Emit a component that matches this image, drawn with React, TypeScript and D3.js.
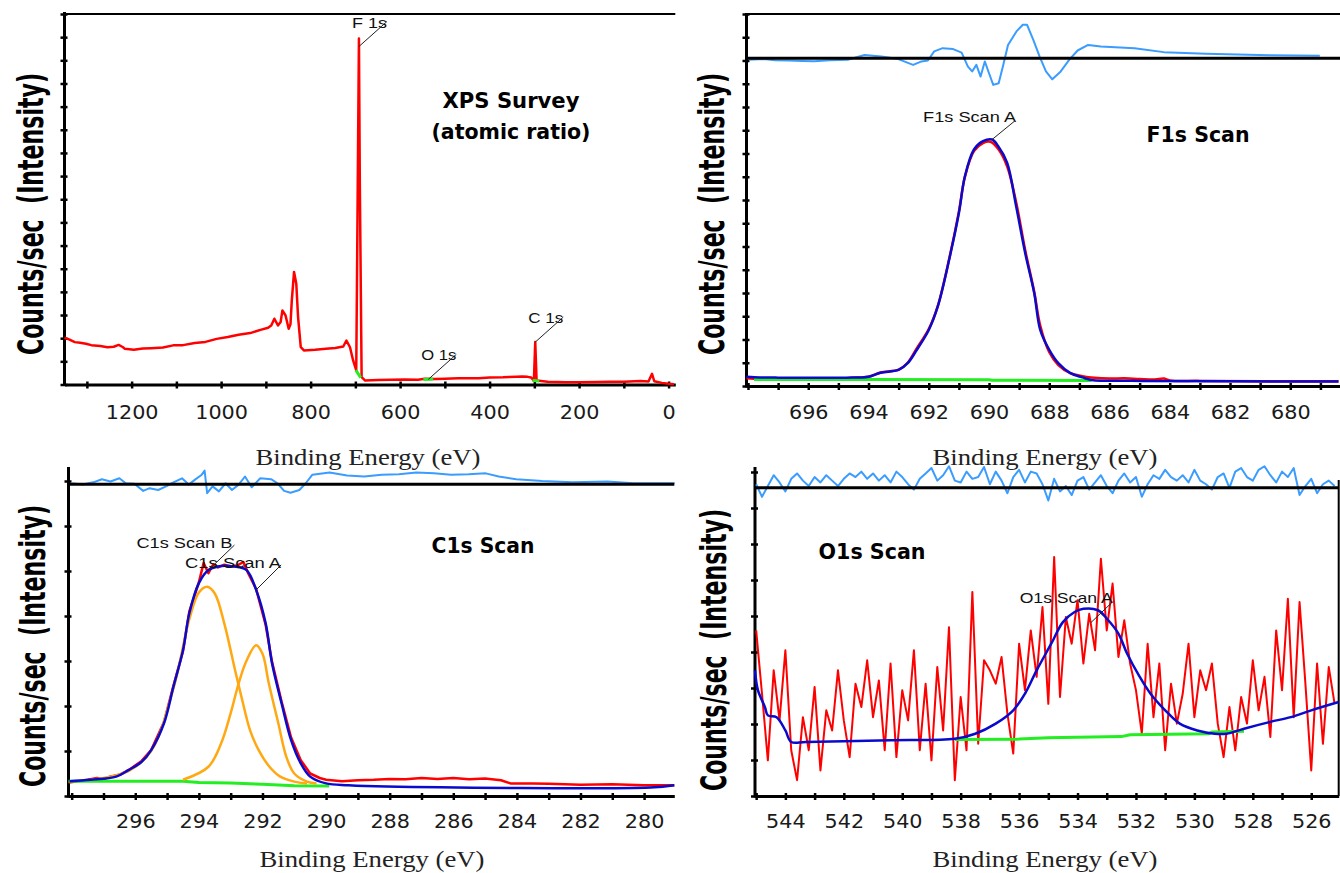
import React, { useEffect, useRef } from "react";
import * as d3 from "d3";

type Pt = [number, number];

// ---- XPS survey: binding energy (eV) / counts (in tick units) ----
const surveyEnergy = [1350, 1340, 1327, 1315, 1302, 1290, 1270, 1254, 1240, 1229,
  1220, 1215, 1195, 1175, 1156, 1130, 1107, 1085, 1059, 1035,
  1010, 985, 961, 935, 912, 895, 888, 881, 873, 867,
  863, 856, 849, 845, 842, 837, 832, 828, 822, 815,
  790, 766, 745, 727, 720, 712, 705, 698, 692, 690,
  686, 678, 650, 620, 590, 560, 545, 522, 500, 470,
  424, 400, 370, 340, 327, 315, 307, 301, 298, 295,
  270, 229, 200, 160, 132, 100, 63, 45, 37, 32,
  15, 0, -12];
const surveyCounts = [2.02, 1.95, 1.83, 1.80, 1.76, 1.70, 1.66, 1.61, 1.63, 1.71,
  1.62, 1.54, 1.50, 1.55, 1.57, 1.60, 1.69, 1.70, 1.79, 1.84,
  1.97, 2.05, 2.15, 2.22, 2.36, 2.45, 2.55, 2.84, 2.55, 2.70,
  3.20, 2.98, 2.41, 2.60, 3.63, 4.86, 4.35, 2.91, 1.61, 1.47,
  1.50, 1.54, 1.58, 1.64, 1.90, 1.61, 1.04, 0.61, 14.94, 8.67,
  0.32, 0.17, 0.19, 0.20, 0.22, 0.21, 0.25, 0.24, 0.25, 0.27,
  0.27, 0.30, 0.31, 0.34, 0.35, 0.33, 0.30, 0.17, 1.83, 0.17,
  0.12, 0.10, 0.10, 0.11, 0.12, 0.12, 0.15, 0.13, 0.46, 0.14,
  0.07, 0.03, 0.01];
const surveyBgF: Pt[] = [[699, 0.62], [688, 0.30]];
const surveyBgO: Pt[] = [[548, 0.22], [526, 0.24]];
const surveyBgC: Pt[] = [[304, 0.17], [289, 0.15]];
const surveyPeakNames = ["F 1s", "O 1s", "C 1s"];
const surveyPeakEnergy = [692, 537, 298];
const surveyPeakCounts = [14.94, 0.22, 1.83];

// ---- F1s scan ----
const f1sData: Pt[] = [[698.05, 0.33], [697.6, 0.30], [697.0, 0.28], [696.5, 0.28], [696.0, 0.30],
  [695.0, 0.33], [694.5, 0.36], [694.0, 0.40], [693.6, 0.58], [693.0, 0.70], [692.7, 1.0],
  [692.4, 1.62], [692.0, 2.45], [691.7, 3.45], [691.3, 5.6], [691.0, 7.5], [690.8, 9.0],
  [690.5, 10.1], [690.2, 10.45], [689.95, 10.5], [689.7, 10.2], [689.4, 9.45], [689.1, 7.9],
  [688.8, 5.85], [688.5, 4.05], [688.3, 2.6], [688.0, 1.45], [687.7, 0.9], [687.3, 0.55],
  [686.9, 0.42], [686.5, 0.35], [686.0, 0.32], [685.5, 0.33], [685.0, 0.30], [684.5, 0.28],
  [684.2, 0.32], [684.0, 0.24], [683.0, 0.22], [678.4, 0.20]];
const f1sEnvelope: Pt[] = [[698.05, 0.40], [697.6, 0.37], [697.0, 0.36], [696.0, 0.36], [695.0, 0.36],
  [694.7, 0.36], [694.0, 0.40], [693.6, 0.57], [693.0, 0.69], [692.7, 0.98], [692.4, 1.55],
  [692.0, 2.41], [691.7, 3.42], [691.3, 5.57], [691.0, 7.44], [690.8, 9.02], [690.5, 10.17],
  [690.2, 10.53], [689.9, 10.6], [689.7, 10.32], [689.4, 9.6], [689.1, 7.73], [688.8, 5.72],
  [688.5, 4.0], [688.3, 2.41], [688.0, 1.55], [687.7, 0.98], [687.3, 0.55], [686.9, 0.37],
  [686.6, 0.26], [684.9, 0.22], [678.4, 0.19]];
const f1sBackground: Pt[] = [[697.8, 0.28], [694.0, 0.28], [690.0, 0.27], [689.9, 0.25], [686.6, 0.24]];
const f1sResidual: Pt[] = [[697.97, -0.07], [697.48, -0.04], [697.1, -0.09], [696.64, -0.10], [696.2, -0.12],
  [695.8, -0.13], [695.3, -0.09], [694.69, -0.07], [694.13, 0.14], [693.57, 0.07], [693.01, -0.04],
  [692.52, -0.29], [692.24, -0.14], [692.03, -0.10], [691.82, 0.29], [691.54, 0.43], [691.19, 0.39],
  [690.91, 0.24], [690.7, -0.36], [690.56, -0.57], [690.42, -0.29], [690.28, -0.79], [690.14, -0.14],
  [690.0, -0.65], [689.86, -1.15], [689.68, -1.08], [689.54, -0.36], [689.37, 0.57], [689.09, 1.15],
  [688.88, 1.44], [688.74, 1.44], [688.53, 0.79], [688.32, 0.07], [688.11, -0.57], [687.9, -0.91],
  [687.62, -0.57], [687.34, -0.07], [687.06, 0.33], [686.71, 0.57], [686.29, 0.50], [685.17, 0.43],
  [684.2, 0.26], [682.8, 0.19], [680.7, 0.13], [679.02, 0.10]];

// ---- C1s scan ----
const c1sData: Pt[] = [[298.1, 0.30], [297.8, 0.33], [297.5, 0.36], [297.2, 0.40], [297.0, 0.37],
  [296.8, 0.43], [296.5, 0.47], [296.2, 0.58], [295.8, 0.78], [295.5, 1.02], [295.1, 1.64],
  [294.8, 2.45], [294.5, 3.22], [294.3, 4.10], [294.0, 4.75], [293.85, 5.18], [293.7, 4.95],
  [293.55, 5.15], [293.4, 5.08], [293.2, 5.14], [293.0, 5.10], [292.8, 5.12], [292.6, 5.20],
  [292.45, 4.95], [292.2, 4.60], [291.9, 3.80], [291.7, 2.98], [291.4, 2.10], [291.1, 1.30],
  [290.8, 0.80], [290.5, 0.50], [290.2, 0.40], [290.0, 0.36], [289.5, 0.33], [289.0, 0.35],
  [288.5, 0.36], [288.0, 0.38], [287.5, 0.37], [287.0, 0.40], [286.5, 0.38], [286.0, 0.40],
  [285.5, 0.37], [285.0, 0.39], [284.5, 0.35], [284.2, 0.28], [283.5, 0.28], [283.0, 0.27],
  [282.0, 0.25], [281.0, 0.26], [280.0, 0.24], [279.05, 0.24]];
const c1sEnvelope: Pt[] = [[298.07, 0.33], [297.4, 0.36], [296.6, 0.43], [296.2, 0.58], [295.8, 0.76],
  [295.5, 1.02], [295.1, 1.61], [294.8, 2.43], [294.5, 3.24], [294.3, 4.06], [294.0, 4.73],
  [293.7, 5.02], [293.4, 5.10], [292.9, 5.10], [292.5, 5.02], [292.2, 4.58], [291.9, 3.84],
  [291.7, 2.95], [291.4, 2.06], [291.1, 1.24], [290.8, 0.73], [290.5, 0.43], [290.0, 0.28],
  [289.3, 0.24], [288.1, 0.21], [279.8, 0.19], [279.05, 0.24]];
const c1sPeakA: Pt[] = [[294.5, 0.36], [293.7, 0.65], [293.3, 1.17], [293.0, 1.84], [292.75, 2.50],
  [292.5, 3.01], [292.2, 3.35], [292.0, 3.16], [291.8, 2.50], [291.5, 1.61], [291.25, 0.87],
  [291.0, 0.50], [290.6, 0.32], [290.3, 0.28]];
const c1sPeakB: Pt[] = [[297.4, 0.36], [296.2, 0.56], [295.5, 1.0], [294.8, 2.39], [294.3, 3.93],
  [294.0, 4.52], [293.74, 4.65], [293.5, 4.50], [293.2, 3.83], [292.86, 2.79], [292.66, 2.20],
  [292.39, 1.46], [292.12, 1.02], [291.78, 0.65], [291.44, 0.43], [291.0, 0.32], [290.6, 0.28]];
const c1sBackground: Pt[] = [[298.1, 0.33], [294.5, 0.33], [294.0, 0.30], [293.0, 0.29], [292.0, 0.26],
  [291.0, 0.23], [289.9, 0.22]];
const c1sResidual: Pt[] = [[298.0, 0.02], [297.66, -0.01], [297.32, 0.04], [297.05, 0.11], [296.78, 0.06],
  [296.5, 0.13], [296.3, 0.02], [296.03, 0.01], [295.75, -0.15], [295.55, -0.09], [295.28, -0.13],
  [295.0, -0.04], [294.8, 0.04], [294.53, 0.13], [294.32, -0.01], [294.12, 0.10], [293.91, 0.21],
  [293.82, 0.30], [293.74, -0.20], [293.57, -0.05], [293.37, -0.16], [293.16, 0.02], [292.96, -0.13],
  [292.75, -0.01], [292.55, 0.17], [292.34, -0.07], [292.07, 0.13], [291.73, 0.11], [291.53, 0.02],
  [291.32, -0.15], [291.12, -0.19], [290.84, -0.13], [290.64, 0.02], [290.43, 0.21], [289.89, 0.26],
  [289.34, 0.19], [288.8, 0.17], [288.25, 0.21], [287.71, 0.22], [287.16, 0.26], [286.61, 0.24],
  [286.07, 0.21], [285.52, 0.22], [284.98, 0.24], [284.57, 0.17], [284.02, 0.11], [283.2, 0.07],
  [282.25, 0.04], [281.16, 0.06], [280.34, 0.02], [279.04, 0.02]];

// ---- O1s scan (0.2 eV steps from 545.0 eV) ----
const o1sStart = 545.0;
const o1sStep = 0.2;
const o1sCounts = [4.6, 2.84, 0.99, 3.49, 2.1, 4.05, 1.27, 0.44, 2.19, 1.27,
  3.03, 0.71, 2.38, 1.82, 3.49, 2.1, 1.08, 3.12, 2.47, 3.77,
  2.19, 3.21, 1.27, 3.68, 1.08, 2.94, 2.1, 4.05, 1.27, 3.12,
  0.99, 3.58, 1.82, 4.69, 0.44, 2.75, 1.27, 5.67, 1.45, 3.77,
  3.49, 3.12, 3.86, 2.29, 1.18, 4.23, 2.94, 4.6, 3.31, 5.25,
  2.56, 6.64, 2.75, 4.97, 4.23, 5.44, 3.68, 5.06, 4.05, 6.59,
  4.6, 5.9, 3.86, 4.88, 3.68, 2.94, 1.73, 4.23, 2.19, 3.68,
  1.27, 3.12, 2.01, 2.84, 4.23, 2.19, 3.49, 2.94, 3.68, 2.01,
  1.08, 2.47, 1.27, 2.75, 2.01, 3.77, 2.38, 3.31, 1.64, 4.6,
  2.94, 5.48, 2.19, 5.39, 3.12, 0.71, 3.68, 1.45, 3.58, 2.56];
const o1sResidual = [0.10, -0.25, 0.05, 0.35, 0.15, -0.10, 0.25, 0.40, 0.20, 0.05,
  0.30, 0.15, 0.35, 0.20, 0.05, 0.25, 0.40, 0.30, 0.45, 0.25,
  0.40, 0.20, 0.35, 0.15, 0.45, 0.30, 0.10, -0.05, 0.25, 0.40,
  0.55, 0.20, 0.35, 0.60, 0.20, 0.15, 0.45, 0.25, 0.30, 0.58,
  0.10, 0.45, 0.20, -0.15, 0.30, 0.50, 0.15, 0.45, 0.40, 0.10,
  -0.35, 0.25, -0.10, 0.05, -0.20, 0.20, 0.30, -0.05, 0.15, 0.35,
  0.05, -0.15, 0.20, 0.40, 0.15, 0.30, -0.25, 0.10, 0.35, 0.25,
  0.50, 0.30, 0.20, 0.35, 0.15, 0.50, 0.20, 0.10, -0.05, 0.30,
  0.40, 0.00, 0.45, 0.55, 0.30, 0.20, 0.50, 0.60, 0.35, 0.15,
  0.45, 0.30, 0.55, -0.20, 0.05, 0.25, -0.15, 0.10, 0.20, 0.05];
const o1sEnvelope: Pt[] = [[545.04, 3.49], [544.94, 2.94], [544.7, 2.47], [544.6, 2.24], [544.3, 2.19],
  [544.0, 1.82], [543.8, 1.50], [543.3, 1.50], [540.4, 1.55], [538.2, 1.59], [537.5, 1.73],
  [536.8, 2.01], [536.2, 2.38], [535.8, 2.84], [535.4, 3.49], [534.9, 4.23], [534.5, 4.83],
  [534.1, 5.11], [533.8, 5.20], [533.3, 5.16], [533.0, 4.93], [532.6, 4.51], [532.3, 3.95],
  [531.9, 3.35], [531.5, 2.84], [531.0, 2.38], [530.5, 2.01], [529.9, 1.82], [529.3, 1.73],
  [528.9, 1.73], [528.3, 1.87], [527.4, 2.06], [526.7, 2.19], [526.0, 2.38], [525.06, 2.61]];
const o1sBackground: Pt[] = [[538.2, 1.57], [536.0, 1.58], [535.0, 1.62], [532.5, 1.65], [532.2, 1.70],
  [529.5, 1.73], [529.4, 1.78], [528.3, 1.80]];

const RED = "#ff0000";
const BLUE = "#0a0acc";
const GREEN = "#22ee22";
const ORANGE = "#ffa812";
const RESID = "#3a9cff";
const TICK_FONT = "'DejaVu Sans', Verdana, sans-serif";
const BOLD_FONT = "'DejaVu Sans', Verdana, sans-serif";
const SERIF = "'Liberation Serif', 'DejaVu Serif', serif";
const SMALL = "'Liberation Sans', Arial, sans-serif";

function addText(g, str, x, y, opts) {
  const t = g.append("text")
    .attr("text-anchor", opts.anchor || "middle")
    .attr("font-family", opts.family)
    .attr("font-size", opts.size)
    .attr("font-weight", opts.bold ? "bold" : "normal")
    .attr("fill", opts.fill || "#000")
    .text(str);
  if (opts.rotate) {
    // rotated axis title, glyphs stretched across the baseline
    t.attr("x", 0).attr("y", 0)
      .attr("transform", `translate(${x},${y}) rotate(${opts.rotate}) scale(1,${opts.stretch || 1})`);
  } else {
    t.attr("x", x).attr("y", y);
  }
  if (opts.length) t.attr("textLength", opts.length).attr("lengthAdjust", "spacingAndGlyphs");
  return t;
}

function drawFrame(svg, p) {
  const x = d3.scaleLinear().domain(p.xDomain).range([p.left, p.right]);
  const y = d3.scaleLinear().domain([0, p.yMax]).range([p.bottom, p.yTop]);
  const g = svg.append("g");

  const lo = Math.min(p.xDomain[0], p.xDomain[1]);
  const hi = Math.max(p.xDomain[0], p.xDomain[1]);
  const ticks = d3.range(Math.ceil(lo / p.step) * p.step, hi + 1e-6, p.step);
  const shown = (v) => v % p.labelStep === 0 && x(v) - p.left > 15;

  // bottom axis: ticks every step, labels every labelStep
  const xAxis = d3.axisBottom(x).tickValues(ticks).tickSizeInner(4).tickSizeOuter(0)
    .tickFormat((v) => (shown(v) ? String(v) : ""));
  const ax = g.append("g").attr("transform", `translate(0,${p.bottom})`).call(xAxis);
  ax.select(".domain").attr("stroke-width", 3);
  ax.selectAll(".tick line").attr("y1", -3).attr("y2", 4).attr("stroke-width", 2.5);
  ax.selectAll(".tick text")
    .attr("y", p.labelGap).attr("dy", 0)
    .attr("font-family", TICK_FONT).attr("font-size", 19).attr("fill", "#1a1a1a")
    .each(function (v) {
      if (shown(v)) d3.select(this).attr("textLength", String(v).length * 13.2).attr("lengthAdjust", "spacingAndGlyphs");
    });

  // left axis: unlabelled ticks
  const yAxis = d3.axisLeft(y).tickValues(d3.range(0, p.yMax + 1)).tickSizeInner(4).tickSizeOuter(0).tickFormat(() => "");
  const ay = g.append("g").attr("transform", `translate(${p.left},0)`).call(yAxis);
  ay.select(".domain").remove();
  ay.selectAll(".tick line").attr("x1", 3).attr("x2", -4).attr("stroke-width", 2.5);
  g.append("line").attr("x1", p.left).attr("x2", p.left).attr("y1", p.axisTop).attr("y2", p.bottom + 1.5)
    .attr("stroke", "#000").attr("stroke-width", 3);

  addText(g, "Binding Energy (eV)", p.xTitle[0], p.xTitle[1], { family: SERIF, size: 23, length: 225, fill: "#222" });
  addText(g, "Counts/sec\u00a0 (Intensity)", p.yTitle[0], p.yTitle[1],
    { family: BOLD_FONT, size: 21, bold: true, length: 282, rotate: -90, stretch: 1.7 });
  return { x, y, g };
}

function drawLine(g, pts, x, y, color, width, smooth = false, offset = 0) {
  const line = d3.line<Pt>().x((d) => x(d[0])).y((d) => y(d[1] + offset));
  if (smooth) line.curve(d3.curveCatmullRom);
  g.append("path").datum(pts).attr("d", line).attr("fill", "none")
    .attr("stroke", color).attr("stroke-width", width).attr("stroke-linejoin", "round");
}

function drawLeader(g, x0, y0, dx, dy, label, len, tdx, tdy) {
  g.append("line").attr("x1", x0).attr("y1", y0).attr("x2", x0 + dx).attr("y2", y0 + dy)
    .attr("stroke", "#222").attr("stroke-width", 1);
  addText(g, label, x0 + dx + tdx, y0 + dy + tdy, { family: SMALL, size: 15, anchor: "end", length: len, fill: "#111" });
}

function hline(g, x1, x2, yv, w) {
  g.append("line").attr("x1", x1).attr("x2", x2).attr("y1", yv).attr("y2", yv).attr("stroke", "#000").attr("stroke-width", w);
}

export default function App() {
  const ref = useRef<SVGSVGElement>(null);

  useEffect(() => {
    const svg = d3.select(ref.current);
    svg.selectAll("*").remove();

    // survey
    {
      const p = { xDomain: [1350, -15], left: 64.5, right: 675.3, bottom: 384.5, yTop: 14, axisTop: 12, yMax: 16,
        step: 100, labelStep: 200, labelGap: 34.5, xTitle: [368, 465], yTitle: [43, 214] };
      const { x, y, g } = drawFrame(svg, p);
      hline(g, p.left, p.right, 14, 2);
      const pts: Pt[] = surveyEnergy.map((e, i) => [e, surveyCounts[i]]);
      drawLine(g, pts, x, y, RED, 2.5);
      [surveyBgF, surveyBgO, surveyBgC].forEach((bg) => drawLine(g, bg, x, y, GREEN, 3));
      surveyPeakNames.forEach((name, i) => {
        const px = x(surveyPeakEnergy[i]);
        const py = y(surveyPeakCounts[i]) + (i === 0 ? 8 : 0);
        drawLeader(g, px, py, 28, -25, name, 35, 0, 6);
      });
      addText(g, "XPS Survey", 511, 108, { family: BOLD_FONT, size: 21, bold: true, length: 137 });
      addText(g, "(atomic ratio)", 511, 139, { family: BOLD_FONT, size: 21, bold: true, length: 159 });
    }

    // F1s
    {
      const p = { xDomain: [698.05, 678.35], left: 746.5, right: 1340, bottom: 386, yTop: 14, axisTop: 13, yMax: 16,
        step: 1, labelStep: 2, labelGap: 33, xTitle: [1045, 465], yTitle: [724, 214] };
      const { x, y, g } = drawFrame(svg, p);
      hline(g, p.left, p.right, 14, 2);
      drawLine(g, f1sResidual, x, y, RESID, 2, false, 14.1);
      hline(g, p.left, p.right, y(14.1), 3);
      drawLine(g, f1sData, x, y, RED, 2.5, true);
      drawLine(g, f1sBackground, x, y, GREEN, 3);
      drawLine(g, f1sEnvelope, x, y, BLUE, 2.5, true);
      drawLeader(g, x(689.9), y(10.6), 22, -18, "F1s Scan A", 93, 2, 0);
      addText(g, "F1s Scan", 1198, 142, { family: BOLD_FONT, size: 21, bold: true, length: 103 });
    }

    // C1s
    {
      const p = { xDomain: [298.1, 279.05], left: 68.5, right: 674.3, bottom: 796, yTop: 481, axisTop: 467, yMax: 7,
        step: 1, labelStep: 2, labelGap: 32, xTitle: [372, 867], yTitle: [45, 646] };
      const { x, y, g } = drawFrame(svg, p);
      drawLine(g, c1sResidual, x, y, RESID, 2, false, 6.93);
      hline(g, p.left, p.right, y(6.93), 3);
      drawLine(g, c1sData, x, y, RED, 2.5);
      drawLine(g, c1sBackground, x, y, GREEN, 3);
      drawLine(g, c1sPeakB, x, y, ORANGE, 2.5, true);
      drawLine(g, c1sPeakA, x, y, ORANGE, 2.5, true);
      drawLine(g, c1sEnvelope, x, y, BLUE, 2.5, true);
      drawLeader(g, x(293.7), y(5.02), 26, -25, "C1s Scan B", 96, -2, 3);
      drawLeader(g, x(292.2), y(4.58), 25, -25, "C1s Scan A", 96, 0, 3);
      addText(g, "C1s Scan", 483, 553, { family: BOLD_FONT, size: 21, bold: true, length: 103 });
    }

    // O1s
    {
      const p = { xDomain: [545.04, 525.06], left: 755, right: 1338.7, bottom: 796, yTop: 472, axisTop: 467, yMax: 9,
        step: 1, labelStep: 2, labelGap: 32, xTitle: [1045, 867], yTitle: [726, 650] };
      const { x, y, g } = drawFrame(svg, p);
      const resid: Pt[] = o1sResidual.map((r, i) => [o1sStart - i * o1sStep, r]);
      drawLine(g, resid, x, y, RESID, 2, false, 8.56);
      hline(g, p.left, p.right, y(8.56), 3);
      g.append("line").attr("x1", p.right).attr("x2", p.right).attr("y1", 480).attr("y2", p.bottom)
        .attr("stroke", "#000").attr("stroke-width", 2);
      const data: Pt[] = o1sCounts.map((c, i) => [o1sStart - i * o1sStep, c]);
      drawLine(g, data, x, y, RED, 2);
      drawLine(g, o1sBackground, x, y, GREEN, 3);
      drawLine(g, o1sEnvelope, x, y, BLUE, 2.5, true);
      drawLeader(g, x(533.55), y(5.2) + 14, 22, -21, "O1s Scan A", 93, 0, 1);
      addText(g, "O1s Scan", 872, 559, { family: BOLD_FONT, size: 21, bold: true, length: 107 });
    }
  }, []);

  return (
    <svg ref={ref} width={1340} height={873}
      style={{ position: "absolute", left: 0, top: 0, background: "#fff" }} />
  );
}
